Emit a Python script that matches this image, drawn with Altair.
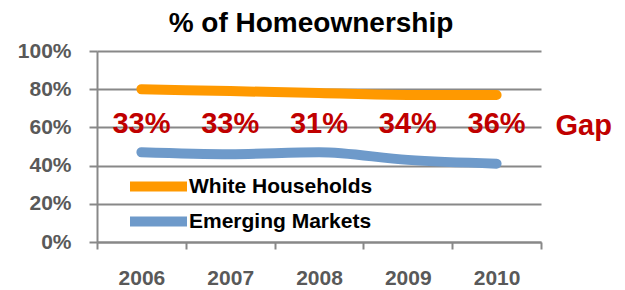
import altair as alt
import pandas as pd

years = ["2006", "2007", "2008", "2009", "2010"]
white = [80, 79, 78, 77, 77]
emerging = [47, 46, 47, 43, 41]
gap_labels = ["33%", "33%", "31%", "34%", "36%"]
series_names = ["White Households", "Emerging Markets"]
y_ticks = [0, 20, 40, 60, 80, 100]

FONT = "Liberation Sans"
GRID = "#888888"

lines_df = pd.DataFrame(
    {
        "year": years * 2,
        "value": white + emerging,
        "series": [series_names[0]] * len(years) + [series_names[1]] * len(years),
    }
)
gap_df = pd.DataFrame({"year": years, "gap": gap_labels})

x_enc = alt.X(
    "year:N",
    sort=years,
    scale=alt.Scale(paddingInner=0, paddingOuter=0),
    axis=alt.Axis(
        title=None,
        labelAngle=0,
        labelFont=FONT,
        labelFontSize=21,
        labelFontWeight="bold",
        labelColor="#595959",
        labelPadding=18,
        tickBand="extent",
        tickSize=7,
        tickColor=GRID,
        tickWidth=2,
        domainColor=GRID,
        domainWidth=2,
        grid=False,
    ),
)

y_scale = alt.Scale(domain=[0, 100], nice=False)

lines = alt.Chart(lines_df).mark_line(
    strokeWidth=10, strokeCap="round", interpolate="monotone"
).encode(
    x=x_enc,
    y=alt.Y(
        "value:Q",
        scale=y_scale,
        axis=alt.Axis(
            title=None,
            values=y_ticks,
            labelExpr="datum.value + '%'",
            labelFont=FONT,
            labelFontSize=21,
            labelFontWeight="bold",
            labelColor="#595959",
            labelPadding=18,
            tickSize=8,
            tickColor=GRID,
            tickWidth=2,
            domainColor=GRID,
            domainWidth=2,
            grid=True,
            gridColor=GRID,
            gridWidth=2,
        ),
    ),
    color=alt.Color(
        "series:N",
        sort=series_names,
        scale=alt.Scale(domain=series_names, range=["#FF9900", "#6E9ACA"]),
        legend=alt.Legend(
            title=None,
            orient="none",
            legendX=47,
            legendY=121,
            padding=0,
            symbolType="M-3,0H3",
            symbolSize=361,
            symbolStrokeWidth=10,
            symbolFillColor="transparent",
            labelFont=FONT,
            labelFontSize=21,
            labelFontWeight="bold",
            labelColor="black",
            labelOffset=16,
            labelLimit=400,
            rowPadding=-9,
        ),
    ),
)

gaps = alt.Chart(gap_df).transform_calculate(pos="62").mark_text(
    font=FONT, fontSize=29, fontWeight="bold", color="#C00000"
).encode(
    x=alt.X("year:N", sort=years),
    y=alt.Y(
        "pos:Q",
        scale=y_scale,
        axis=alt.Axis(
            orient="right",
            title=None,
            values=[61],
            labelExpr="'Gap'",
            labelFont=FONT,
            labelFontSize=29,
            labelFontWeight="bold",
            labelColor="#C00000",
            labelPadding=14,
            ticks=False,
            domain=False,
            grid=False,
        ),
    ),
    text="gap:N",
)

chart = (
    alt.layer(lines, gaps)
    .resolve_axis(y="independent")
    .properties(
        width=444,
        height=191,
        autosize=alt.AutoSizeParams(type="none"),
        padding={"left": 89, "top": 43, "right": 76, "bottom": 47},
        background="white",
        title=alt.TitleParams(
            "% of Homeownership",
            font=FONT,
            fontSize=28,
            fontWeight="bold",
            color="black",
            anchor="middle",
            dx=-8,
            offset=2,
        ),
    )
    .configure_view(stroke=None)
)

chart.save("out.html", embed_options={"renderer": "svg", "actions": False})
